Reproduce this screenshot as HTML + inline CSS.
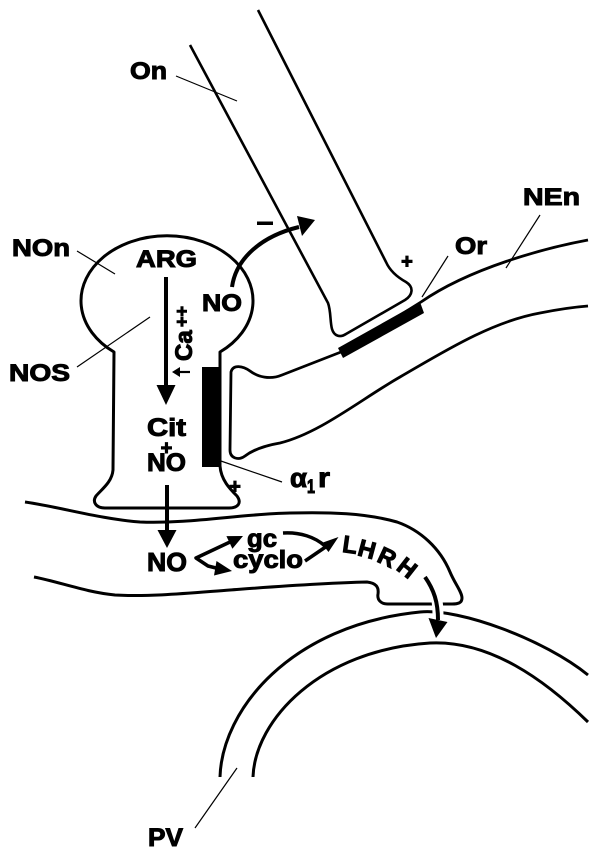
<!DOCTYPE html>
<html>
<head>
<meta charset="utf-8">
<style>
html,body{margin:0;padding:0;background:#fff;}
svg{display:block;}
text{font-family:"Liberation Sans","DejaVu Sans",sans-serif;font-weight:bold;fill:#000;stroke:#000;stroke-width:1;}
</style>
</head>
<body>
<svg width="600" height="850" viewBox="0 0 600 850" xmlns="http://www.w3.org/2000/svg">
<rect x="0" y="0" width="600" height="850" fill="#fff"/>

<!-- On axon -->
<path d="M190,45 L328,303 C331,311 330,322 332,329 C334,336 340,338 346,334 L405,300 C413,295 414,287 406,282 C397,277 390,271 386,262 L258,10" fill="none" stroke="#000" stroke-width="2.6" stroke-linejoin="round"/>

<!-- NEn process -->
<path d="M588,240 C545,248 470,268 421,302 L341,352 L282,375 C270,380 258,377 250,371 C243,366 233,364 231,372 L230,450 C230,458 238,461 245,456 C253,450 263,446 280,443 C320,433 360,400 400,377 C440,354 490,322 540,313 C560,309 575,307 588,306" fill="none" stroke="#000" stroke-width="2.8" stroke-linejoin="round"/>

<!-- Or bar -->
<polygon points="338,348 420,302 424,313 343,358" fill="#000"/>

<!-- NOn cell -->
<path d="M114,352 A86,65 0 1 1 220,352 L220,466 C221,480 230,489 237,496 C242,503 238,508 229,508 L105,508 C96,508 92,502 96,496 C102,489 112,482 113,470 L114,352 Z" fill="none" stroke="#000" stroke-width="3" stroke-linejoin="round"/>

<!-- alpha1 receptor bar -->
<rect x="202" y="367" width="17" height="100" fill="#000"/>

<!-- LHRH neuron -->
<path d="M25,502 C60,507 100,519 140,522 C190,524 240,514 290,513 C330,512 365,513 397,522 C420,530 440,548 450,572 C455,584 462,592 462,598 C462,603 458,604 452,604 L388,604 C381,604 377,600 378,594 C379,587 376,583 367,582 C320,583 270,587 230,590 C190,593 150,597 115,595 C85,592 60,582 34,577" fill="none" stroke="#000" stroke-width="3" stroke-linejoin="round"/>

<!-- PV arcs -->
<path d="M220,777 C222,710 290,625 420,612 C460,608 545,640 588,675" fill="none" stroke="#000" stroke-width="3"/>
<path d="M253,777 C255,720 320,650 430,643 C490,640 545,680 588,722" fill="none" stroke="#000" stroke-width="3"/>

<!-- ARG -> Cit arrow -->
<line x1="166" y1="277" x2="166" y2="388" stroke="#000" stroke-width="4"/>
<polygon points="156.5,385 175.5,385 166,405" fill="#000"/>

<!-- NO -> On arrow -->
<path d="M232,287 C236,258 262,236 299,227" fill="none" stroke="#000" stroke-width="4"/>
<polygon points="315,220 297,216 302,236" fill="#000"/>
<rect x="257" y="221.5" width="16" height="3.5" fill="#000"/>

<!-- Cit+NO -> NO arrow -->
<line x1="167" y1="485" x2="167" y2="532" stroke="#000" stroke-width="4"/>
<polygon points="157.5,530 176.5,530 167,548" fill="#000"/>

<!-- NO -> gc / cyclo -->
<polyline points="230,542 196,558 208,566 216,568" fill="none" stroke="#000" stroke-width="3.5" stroke-linejoin="round"/>
<polygon points="243,536 232.4,548.7 226.4,536.1" fill="#000"/>
<polygon points="232,571 214,575.5 216.5,561" fill="#000"/>

<!-- gc/cyclo -> LHRH -->
<path d="M283,533 C300,532 315,537 325,546" fill="none" stroke="#000" stroke-width="3.5"/>
<line x1="305" y1="561" x2="327" y2="546" stroke="#000" stroke-width="3.5"/>
<polygon points="338.5,537 321.5,543 328.5,552" fill="#000"/>

<!-- LHRH -> PV arrow -->
<path d="M436,596 C438,604 438,610 438,620" fill="none" stroke="#fff" stroke-width="11"/>
<path d="M425,577 C434,590 438,602 438,620" fill="none" stroke="#000" stroke-width="4"/>
<polygon points="428.5,618 447.5,622 436,638" fill="#000"/>

<!-- leader lines -->
<g stroke="#000" stroke-width="1.2">
<line x1="176" y1="76" x2="237" y2="101"/>
<line x1="77" y1="251" x2="115" y2="274"/>
<line x1="77" y1="367" x2="150" y2="317"/>
<line x1="448" y1="256" x2="422" y2="297"/>
<line x1="540" y1="215" x2="506" y2="268"/>
<line x1="218" y1="460" x2="282" y2="482"/>
<line x1="195" y1="828" x2="237" y2="768"/>
</g>

<!-- labels -->
<text x="130" y="79" font-size="24" textLength="37" lengthAdjust="spacingAndGlyphs">On</text>
<text x="12" y="256" font-size="24" textLength="58" lengthAdjust="spacingAndGlyphs">NOn</text>
<text x="136" y="267" font-size="24" textLength="61" lengthAdjust="spacingAndGlyphs">ARG</text>
<text x="202" y="311" font-size="24" textLength="40" lengthAdjust="spacingAndGlyphs">NO</text>
<text x="9" y="381" font-size="24" textLength="61" lengthAdjust="spacingAndGlyphs">NOS</text>
<text x="147" y="436" font-size="25" textLength="39" lengthAdjust="spacingAndGlyphs">Cit</text>
<text x="166.5" y="454.5" font-size="20" text-anchor="middle">+</text>
<text x="147" y="471" font-size="25" textLength="39" lengthAdjust="spacingAndGlyphs">NO</text>
<text x="235" y="493" font-size="20" text-anchor="middle">+</text>
<text x="407" y="268" font-size="20" text-anchor="middle">+</text>
<text x="147" y="571" font-size="26" textLength="40" lengthAdjust="spacingAndGlyphs">NO</text>
<text x="247" y="547" font-size="25" textLength="30" lengthAdjust="spacingAndGlyphs">gc</text>
<text x="233" y="568" font-size="25" textLength="70" lengthAdjust="spacingAndGlyphs">cyclo</text>
<text x="523" y="205" font-size="24" textLength="57" lengthAdjust="spacingAndGlyphs">NEn</text>
<text x="455" y="254" font-size="24" textLength="32" lengthAdjust="spacingAndGlyphs">Or</text>
<text x="148" y="846" font-size="25" textLength="35" lengthAdjust="spacingAndGlyphs">PV</text>

<!-- alpha1 r -->
<text x="290" y="487" font-size="27" textLength="17" lengthAdjust="spacingAndGlyphs">α</text>
<text x="307" y="493" font-size="19" textLength="8" lengthAdjust="spacingAndGlyphs">1</text>
<text x="318" y="487" font-size="28" textLength="12" lengthAdjust="spacingAndGlyphs">r</text>

<!-- LHRH curved -->
<text transform="translate(350,545) rotate(8)" x="0" y="8" font-size="24" text-anchor="middle">L</text>
<text transform="translate(367,549.5) rotate(15)" x="0" y="8" font-size="24" text-anchor="middle">H</text>
<text transform="translate(387,557.5) rotate(25)" x="0" y="8" font-size="24" text-anchor="middle">R</text>
<text transform="translate(407,568) rotate(38)" x="0" y="8" font-size="24" text-anchor="middle">H</text>

<!-- up-arrow Ca++ (rotated) -->
<g transform="translate(192,378) rotate(-90)">
  <line x1="6" y1="-2" x2="6" y2="-14" stroke="#000" stroke-width="2.2"/>
  <polygon points="6,-20 1,-12 11,-12" fill="#000"/>
  <text x="17" y="0" font-size="24">Ca</text>
  <text x="51" y="-4" font-size="18">++</text>
</g>
</svg>
</body>
</html>
